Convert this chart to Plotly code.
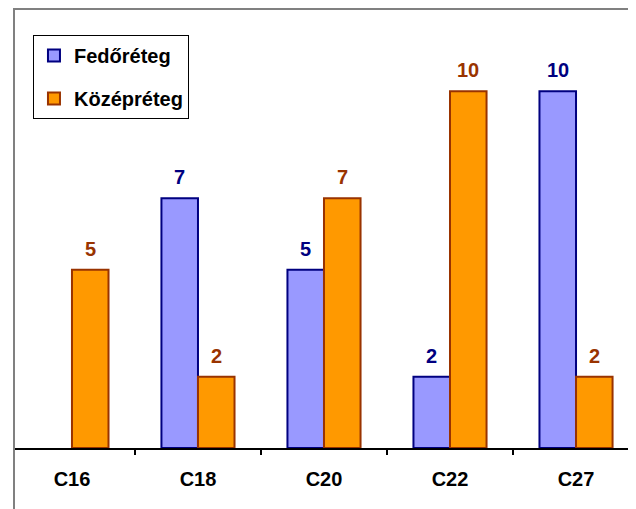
import plotly.graph_objects as go

categories = ["C16", "C18", "C20", "C22", "C27"]
fedo_values = [None, 7, 5, 2, 10]
kozep_values = [5, 2, 7, 10, 2]
series_names = ["Fedőréteg", "Középréteg"]

FONT = "Arial, Liberation Sans, sans-serif"
blue_fill, blue_line = "#9999FF", "#000080"
orange_fill, orange_line = "#FF9900", "#993300"

fig = go.Figure()
fig.add_trace(go.Bar(
    x=categories, y=fedo_values, name=series_names[0], legendgroup="a",
    marker=dict(color=blue_fill, line=dict(color=blue_line, width=2)),
))
fig.add_trace(go.Bar(
    x=categories, y=kozep_values, name=series_names[1], legendgroup="b",
    marker=dict(color=orange_fill, line=dict(color=orange_line, width=2)),
))

half = 126 * 0.29 / 2
for cat, v in zip(categories, fedo_values):
    if v is not None:
        fig.add_annotation(x=cat, y=v, text=f"<b>{v}</b>", showarrow=False,
                           xshift=-half, yshift=8, yanchor="bottom",
                           font=dict(family=FONT, size=20, color=blue_line))
for cat, v in zip(categories, kozep_values):
    if v is not None:
        fig.add_annotation(x=cat, y=v, text=f"<b>{v}</b>", showarrow=False,
                           xshift=half, yshift=8, yanchor="bottom",
                           font=dict(family=FONT, size=20, color=orange_line))

# outer frame (chart area border)
fig.add_shape(type="path", xref="paper", yref="paper",
              path="M 0,-0.3 L 0,1.0257 L 1.01,1.0257",
              line=dict(color="#808080", width=2), layer="above")

fig.update_layout(
    width=628, height=501,
    margin=dict(l=6, r=0, t=12, b=61),
    paper_bgcolor="white", plot_bgcolor="white",
    barmode="group", bargap=0.42, bargroupgap=0,
    font=dict(family=FONT, size=20, color="black"),
    showlegend=True,
    legend=dict(x=0.0305, y=0.965, xanchor="left", yanchor="top",
                bgcolor="white", bordercolor="black", borderwidth=1,
                font=dict(family=FONT, size=20, color="black", weight="bold"),
                tracegroupgap=14, traceorder="grouped"),
    xaxis=dict(range=[-0.46, 4.476], showline=True, linecolor="black", linewidth=2,
               ticks="outside", ticklen=5, tickwidth=2, tickcolor="black",
               tickson="boundaries", showgrid=False, zeroline=False,
               tickfont=dict(family=FONT, size=20, color="black", weight="bold"),
               ticklabelstandoff=12),
    yaxis=dict(range=[0, 12], visible=False, showgrid=False, zeroline=False),
)

fig.write_html("out.html")
